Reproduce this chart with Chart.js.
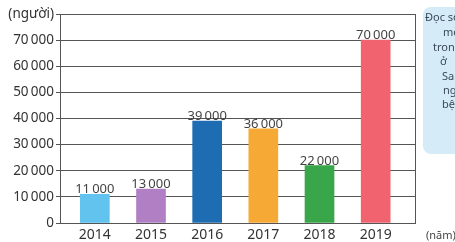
<!DOCTYPE html>
<html>
<head>
<meta charset="utf-8">
<script src="https://cdn.jsdelivr.net/npm/chart.js@4.4.1/dist/chart.umd.min.js"></script>
<style>
  html, body { margin: 0; padding: 0; background: #fff; }
  #wrap { width: 455px; height: 242px; position: relative; }
</style>
</head>
<body>
<div id="wrap"><canvas id="chart"></canvas></div>
<script>
// so lieu doc tu bieu do
const years = [2014, 2015, 2016, 2017, 2018, 2019];
const visitors = [11000, 13000, 39000, 36000, 22000, 70000];
const barColors = ['#62c3ee', '#b17fc4', '#1e6db3', '#f6a934', '#3aa64a', '#f0636f'];
const yTicks = [0, 10000, 20000, 30000, 40000, 50000, 60000, 70000, 80000];
const calloutLines = ['Đọc số', 'mỗi', 'trong', 'ở', 'Sa', 'ngày', 'bệnh'];

const FONT = '"Noto Sans", Lato, sans-serif';

function fmt(v) {
    return String(v).replace(/\B(?=(\d{3})+(?!\d))/g, '\u2009');
}

// ve nhan so lieu, vien phai, don vi (nam) va khung ghi chu
const extras = {
    id: 'extras',
    afterDatasetsDraw(chart) {
        const ctx = chart.ctx;
        const area = chart.chartArea;
        ctx.save();
        // vien ben phai
        ctx.strokeStyle = '#555';
        ctx.lineWidth = 1;
        ctx.beginPath();
        ctx.moveTo(Math.round(area.right) + 0.5, area.top);
        ctx.lineTo(Math.round(area.right) + 0.5, area.bottom);
        ctx.stroke();

        // nhan tren cot
        ctx.fillStyle = '#444';
        ctx.font = '13px ' + FONT;
        ctx.textAlign = 'center';
        ctx.textBaseline = 'bottom';
        chart.getDatasetMeta(0).data.forEach(function (bar, i) {
            ctx.fillText(fmt(visitors[i]), bar.x, bar.y + 2);
        });

        // (năm)
        ctx.textAlign = 'left';
        ctx.textBaseline = 'middle';
        ctx.font = '11px ' + FONT;
        ctx.fillText('(năm)', 426, 236);

        // khung ghi chu ben phai
        ctx.fillStyle = '#d5ebf7';
        ctx.beginPath();
        ctx.roundRect(423, 7, 60, 147, 8);
        ctx.fill();
        ctx.fillStyle = '#3a4a5a';
        ctx.font = '11px ' + FONT;
        const xs = [425, 443, 433, 440, 442, 443, 442];
        const ys = [18, 33, 48, 62, 77, 91, 105];
        calloutLines.forEach(function (t, i) {
            ctx.fillText(t, xs[i], ys[i]);
        });
        ctx.restore();
    }
};

const ctx = document.getElementById('chart').getContext('2d');
const chart = new Chart(ctx, {
    type: 'bar',
    data: {
        datasets: [{
            data: years.map((y, i) => ({ x: y, y: visitors[i] })),
            backgroundColor: barColors,
            borderWidth: 0,
            barThickness: 29
        }]
    },
    options: {
        responsive: true,
        maintainAspectRatio: false,
        animation: false,
        layout: { padding: { top: 14, right: 40, left: 0, bottom: 0 } },
        plugins: {
            legend: { display: false },
            tooltip: { enabled: false }
        },
        scales: {
            x: {
                type: 'linear',
                offset: false,
                min: 2013.38,
                max: 2019.70,
                afterBuildTicks(scale) {
                    scale.ticks = years.map(v => ({ value: v }));
                },
                afterFit(scale) { scale.height = 19; },
                grid: { display: false, drawTicks: false, tickLength: 0 },
                border: { color: '#555', width: 1 },
                ticks: {
                    color: '#333',
                    font: { family: FONT, size: 14 },
                    padding: 4,
                    callback: v => String(v)
                }
            },
            y: {
                min: 0,
                max: 80000,
                afterBuildTicks(scale) {
                    scale.ticks = yTicks.map(v => ({ value: v }));
                },
                afterFit(scale) { scale.width = 60; },
                grid: { color: '#555', lineWidth: 1, tickLength: 4 },
                border: { color: '#555', width: 1 },
                ticks: {
                    color: '#333',
                    font: { family: FONT, size: 13.5 },
                    padding: 2,
                    callback: v => v === 80000 ? '(người)' : fmt(v)
                }
            }
        }
    },
    plugins: [extras]
});
</script>
</body>
</html>
